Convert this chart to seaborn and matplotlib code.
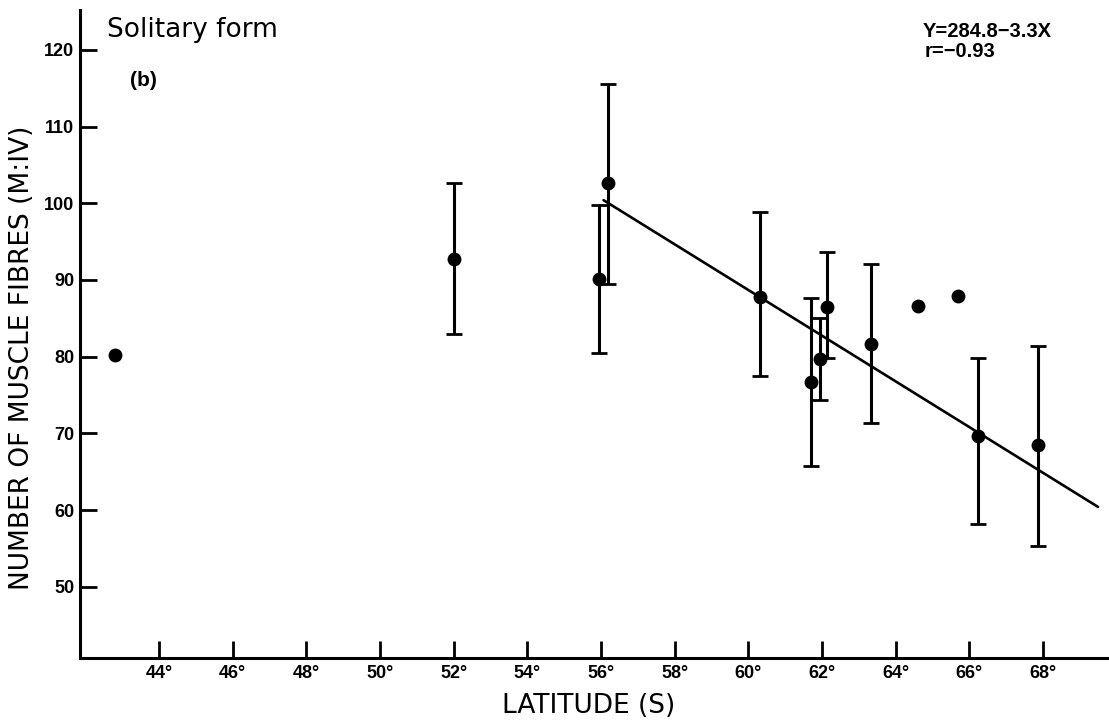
import numpy as np
import pandas as pd
import matplotlib
matplotlib.use("Agg")
import matplotlib.pyplot as plt
import seaborn as sns

# values (latitude S, mean M:IV fibre count, error bar ends)
latitude = [42.8, 52.0, 55.95, 56.2, 60.32, 61.71, 61.94, 62.15, 63.32, 64.6, 65.69, 66.23, 67.88]
fibres = [80.2, 92.7, 90.1, 102.6, 87.8, 76.7, 79.7, 86.5, 81.7, 86.6, 87.9, 69.6, 68.5]
err_low = [np.nan, 83.0, 80.5, 89.5, 77.5, 65.7, 74.3, 79.8, 71.4, np.nan, np.nan, 58.2, 55.3]
err_high = [np.nan, 102.7, 99.8, 115.5, 98.8, 87.7, 85.0, 93.6, 92.1, np.nan, np.nan, 79.8, 81.4]

# regression line as drawn (end points)
fit_lat = [56.07, 69.5]
fit_fibres = [100.4, 60.4]

x_ticks = [44, 46, 48, 50, 52, 54, 56, 58, 60, 62, 64, 66, 68]
y_ticks = [50, 60, 70, 80, 90, 100, 110, 120]

df = pd.DataFrame({"lat": latitude, "n": fibres, "lo": err_low, "hi": err_high})
fit = pd.DataFrame({"lat": fit_lat, "n": fit_fibres})

sns.set_style("ticks", {"axes.edgecolor": "black", "text.color": "black",
                        "xtick.color": "black", "ytick.color": "black",
                        "axes.labelcolor": "black"})
plt.rcParams["font.family"] = ["DejaVu Sans"]
tick_font = {"family": ["Liberation Sans", "DejaVu Sans"], "weight": "bold", "size": 13}

fig = plt.figure(figsize=(11.09, 7.2), dpi=100)
ax = fig.add_axes([0.0721, 0.0861, 0.928, 0.9])

# error bars
eb = df.dropna()
ax.errorbar(eb["lat"], eb["n"], yerr=[eb["n"] - eb["lo"], eb["hi"] - eb["n"]],
            fmt="none", ecolor="black", elinewidth=2.2, capsize=6, capthick=2.0, zorder=2)

sns.lineplot(data=fit, x="lat", y="n", color="black", linewidth=1.9, ax=ax, zorder=3)
sns.scatterplot(data=df, x="lat", y="n", color="black", s=100, edgecolor="black",
                linewidth=0, ax=ax, zorder=4)

ax.set_xlim(41.85, 69.8)
ax.set_ylim(40.7, 125.2)
ax.set_xticks(x_ticks)
ax.set_xticklabels([f"{t}°" for t in x_ticks], fontdict=tick_font)
ax.set_yticks(y_ticks)
ax.set_yticklabels([str(t) for t in y_ticks], fontdict=tick_font)
ax.tick_params(axis="x", direction="in", length=12, width=2.0, pad=5, colors="black")
ax.tick_params(axis="y", direction="in", length=12, width=2.0, pad=4, colors="black")

sns.despine(ax=ax)
for s in ["left", "bottom"]:
    ax.spines[s].set_linewidth(2.2)
    ax.spines[s].set_color("black")

ax.set_xlabel("LATITUDE (S)", fontsize=19)
ax.set_ylabel("NUMBER OF MUSCLE FIBRES (M:IV)", fontsize=19)
ax.xaxis.set_label_coords(0.494, -0.054)
ax.yaxis.set_label_coords(-0.044, 0.463)

fig.text(0.0965, 0.948, "Solitary form", fontsize=19)
fig.text(0.117, 0.88, "(b)", fontdict={**tick_font, "size": 15})
fig.text(0.832, 0.948, "Y=284.8−3.3X", fontdict={**tick_font, "size": 14.5})
fig.text(0.834, 0.921, "r=−0.93", fontdict={**tick_font, "size": 14.5})

fig.savefig("out.png", dpi=100)
